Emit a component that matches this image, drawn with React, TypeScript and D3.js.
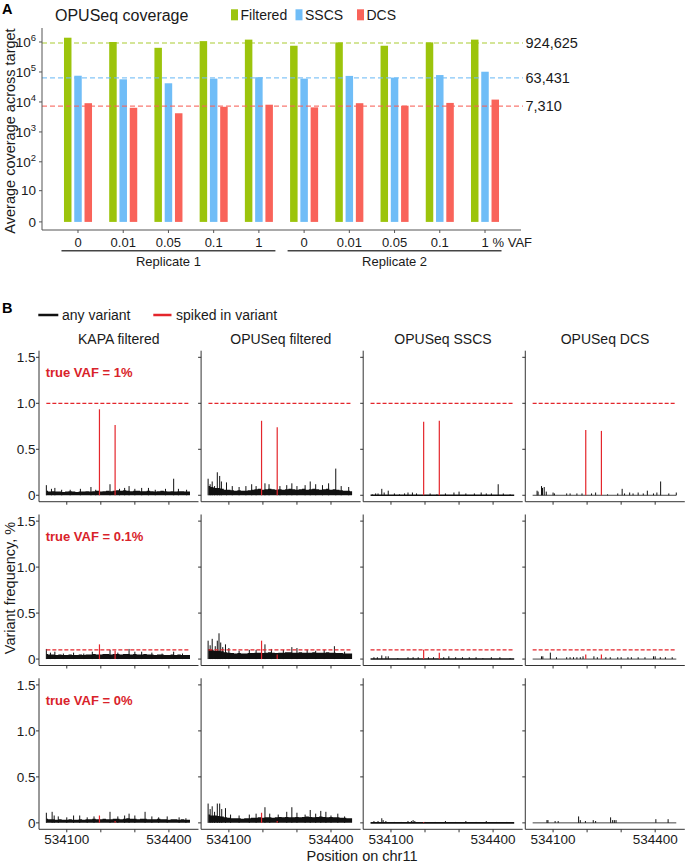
import React from "react";
import * as d3 from "d3";

const FONT = "'Liberation Sans', Arial, Helvetica, sans-serif";

// ---------------- Panel A data ----------------
const vafLevels = ["0", "0.01", "0.05", "0.1", "1"];
const replicates = ["Replicate 1", "Replicate 2"];
const seriesNames = ["Filtered", "SSCS", "DCS"];
const seriesColors = ["#9cc40c", "#70bdf7", "#f9635a"];
const filteredCov = [1390000, 1000000, 640000, 1070000, 1200000, 750000, 970000, 750000, 970000, 1200000];
const sscsCov = [75000, 57000, 42000, 60000, 67000, 60000, 74000, 65000, 79000, 102000];
const dcsCov = [9100, 6400, 4200, 6900, 8100, 6600, 9100, 7500, 9300, 12000];
const meanCov = [924625, 63431, 7310];
const meanLabels = ["924,625", "63,431", "7,310"];
const covTicks = [0, 10, 100, 1000, 10000, 100000, 1000000];
const covTickBase = ["0", "10", "10", "10", "10", "10", "10"];
const covTickExp = ["", "", "2", "3", "4", "5", "6"];

// ---------------- Panel B data ----------------
const columns = ["KAPA filtered", "OPUSeq filtered", "OPUSeq SSCS", "OPUSeq DCS"];
const rowLabels = ["true VAF = 1%", "true VAF = 0.1%", "true VAF = 0%"];
const trueVaf = [1, 0.1, null];
const spikedPositions = [534196, 534242];
const posTicks = [534100, 534200, 534300, 534400];
const posTickLabels = ["534100", "", "", "534400"];
const vafTicks = [0, 0.5, 1.0, 1.5];
const vafTickLabels = ["0", "0.5", "1.0", "1.5"];
const dataStart = 534040;
const dataEnd = 534462;
const bandPositions = [
  534040, 534050, 534060, 534070, 534080, 534090, 534100, 534110, 534120, 534130,
  534140, 534150, 534160, 534170, 534180, 534190, 534200, 534210, 534220, 534230,
  534240, 534250, 534260, 534270, 534280, 534290, 534300, 534310, 534320, 534330,
  534340, 534350, 534360, 534370, 534380, 534390, 534400, 534410, 534420, 534430,
  534440, 534450, 534462,
];

const kapaBand1 = [
  0.05, 0.04, 0.045, 0.04, 0.04, 0.035, 0.04, 0.045, 0.04, 0.035,
  0.04, 0.04, 0.045, 0.04, 0.045, 0.05, 0.04, 0.045, 0.05, 0.045,
  0.05, 0.055, 0.05, 0.055, 0.05, 0.045, 0.05, 0.05, 0.045, 0.045,
  0.05, 0.045, 0.04, 0.045, 0.05, 0.045, 0.04, 0.045, 0.04, 0.045,
  0.045, 0.04, 0.04,
];
const opusBand1 = [
  0.1, 0.09, 0.08, 0.08, 0.07, 0.06, 0.06, 0.055, 0.05, 0.055,
  0.05, 0.05, 0.055, 0.06, 0.065, 0.07, 0.06, 0.065, 0.07, 0.065,
  0.06, 0.065, 0.06, 0.065, 0.07, 0.065, 0.06, 0.065, 0.07, 0.06,
  0.065, 0.07, 0.065, 0.06, 0.065, 0.07, 0.06, 0.065, 0.06, 0.055,
  0.05, 0.05, 0.045,
];
const kapaBand2 = [
  0.055, 0.05, 0.05, 0.045, 0.05, 0.045, 0.045, 0.05, 0.045, 0.045,
  0.05, 0.045, 0.05, 0.05, 0.055, 0.05, 0.05, 0.055, 0.055, 0.05,
  0.055, 0.055, 0.05, 0.055, 0.055, 0.05, 0.055, 0.05, 0.05, 0.055,
  0.05, 0.05, 0.045, 0.05, 0.05, 0.045, 0.045, 0.05, 0.045, 0.05,
  0.045, 0.045, 0.045,
];
const opusBand2 = [
  0.11, 0.1, 0.09, 0.09, 0.085, 0.075, 0.07, 0.065, 0.06, 0.065,
  0.06, 0.06, 0.065, 0.065, 0.07, 0.07, 0.065, 0.07, 0.075, 0.07,
  0.065, 0.07, 0.07, 0.075, 0.075, 0.07, 0.07, 0.075, 0.07, 0.07,
  0.07, 0.075, 0.07, 0.07, 0.07, 0.075, 0.07, 0.07, 0.065, 0.065,
  0.06, 0.06, 0.06,
];
const kapaBand3 = [
  0.045, 0.04, 0.04, 0.035, 0.04, 0.035, 0.035, 0.04, 0.035, 0.035,
  0.04, 0.035, 0.04, 0.04, 0.045, 0.04, 0.04, 0.045, 0.04, 0.04,
  0.045, 0.045, 0.04, 0.045, 0.05, 0.045, 0.045, 0.04, 0.045, 0.045,
  0.04, 0.04, 0.04, 0.045, 0.04, 0.04, 0.035, 0.04, 0.04, 0.035,
  0.04, 0.035, 0.035,
];
const opusBand3 = [
  0.09, 0.08, 0.08, 0.075, 0.07, 0.06, 0.055, 0.05, 0.05, 0.05,
  0.045, 0.05, 0.05, 0.055, 0.055, 0.06, 0.055, 0.06, 0.06, 0.055,
  0.06, 0.065, 0.06, 0.065, 0.06, 0.06, 0.065, 0.06, 0.065, 0.07,
  0.065, 0.06, 0.065, 0.07, 0.065, 0.06, 0.065, 0.06, 0.06, 0.055,
  0.055, 0.05, 0.05,
];

// [position, VAF %] for isolated variants
const kapaSpikes1 = [
  [534040, 0.11], [534055, 0.07], [534065, 0.08], [534085, 0.06], [534110, 0.06], [534140, 0.07],
  [534171, 0.09], [534185, 0.06], [534227, 0.12], [534255, 0.07], [534270, 0.08], [534283, 0.1],
  [534300, 0.07], [534320, 0.08], [534340, 0.08], [534360, 0.06], [534390, 0.07], [534414, 0.18],
  [534428, 0.07], [534452, 0.06],
];
const opusSpikes1 = [
  [534039, 0.18], [534045, 0.12], [534051, 0.15], [534058, 0.1], [534066, 0.25], [534073, 0.21],
  [534078, 0.15], [534093, 0.14], [534110, 0.1], [534130, 0.09], [534150, 0.1], [534167, 0.12],
  [534180, 0.1], [534206, 0.13], [534218, 0.12], [534250, 0.1], [534270, 0.11], [534285, 0.13],
  [534300, 0.1], [534324, 0.11], [534339, 0.15], [534355, 0.12], [534375, 0.11], [534393, 0.13],
  [534414, 0.29], [534430, 0.1], [534452, 0.09],
];
const sscsSpikes1 = [
  [534045, 0.01], [534055, 0.02], [534062, 0.02], [534073, 0.07], [534080, 0.03], [534092, 0.05],
  [534110, 0.02], [534125, 0.01], [534140, 0.02], [534150, 0.03], [534163, 0.03], [534175, 0.02],
  [534215, 0.02], [534235, 0.01], [534260, 0.02], [534285, 0.03], [534300, 0.04], [534320, 0.02],
  [534345, 0.02], [534365, 0.03], [534380, 0.02], [534395, 0.02], [534415, 0.12], [534430, 0.02],
  [534450, 0.01],
];
const dcsSpikes1 = [
  [534053, 0.05], [534056, 0.04], [534066, 0.1], [534069, 0.08], [534074, 0.09], [534080, 0.04],
  [534100, 0.03], [534104, 0.02], [534140, 0.02], [534150, 0.02], [534170, 0.02], [534185, 0.02],
  [534213, 0.02], [534225, 0.03], [534260, 0.01], [534290, 0.02], [534303, 0.07], [534310, 0.02],
  [534325, 0.03], [534335, 0.02], [534350, 0.03], [534365, 0.02], [534377, 0.05], [534395, 0.02],
  [534405, 0.03], [534416, 0.15], [534440, 0.02], [534462, 0.03],
];
const kapaSpikes2 = [
  [534040, 0.11], [534052, 0.07], [534065, 0.08], [534090, 0.06], [534120, 0.07], [534150, 0.06],
  [534175, 0.08], [534227, 0.1], [534250, 0.07], [534283, 0.11], [534300, 0.08], [534320, 0.08],
  [534350, 0.07], [534380, 0.06], [534414, 0.08], [534440, 0.06],
];
const opusSpikes2 = [
  [534039, 0.2], [534045, 0.15], [534051, 0.22], [534060, 0.14], [534066, 0.2], [534071, 0.28],
  [534076, 0.18], [534082, 0.13], [534090, 0.16], [534100, 0.12], [534130, 0.09], [534160, 0.1],
  [534180, 0.1], [534206, 0.16], [534225, 0.11], [534260, 0.1], [534285, 0.13], [534300, 0.12],
  [534330, 0.1], [534355, 0.09], [534380, 0.1], [534410, 0.14], [534440, 0.08],
];
const sscsSpikes2 = [
  [534050, 0.02], [534060, 0.02], [534073, 0.04], [534085, 0.03], [534092, 0.03], [534120, 0.01],
  [534150, 0.02], [534165, 0.02], [534180, 0.02], [534210, 0.02], [534225, 0.02], [534255, 0.02],
  [534270, 0.03], [534290, 0.02], [534310, 0.02], [534330, 0.02], [534350, 0.02], [534370, 0.01],
  [534395, 0.02], [534420, 0.02], [534450, 0.01],
];
const dcsSpikes2 = [
  [534066, 0.03], [534070, 0.03], [534092, 0.07], [534110, 0.02], [534140, 0.02], [534150, 0.02],
  [534160, 0.02], [534170, 0.02], [534180, 0.02], [534188, 0.03], [534220, 0.03], [534230, 0.02],
  [534255, 0.02], [534268, 0.02], [534290, 0.02], [534300, 0.02], [534320, 0.02], [534330, 0.02],
  [534350, 0.02], [534370, 0.02], [534395, 0.03], [534400, 0.03], [534415, 0.02], [534430, 0.02],
  [534450, 0.02],
];
const kapaSpikes3 = [
  [534040, 0.11], [534057, 0.12], [534063, 0.08], [534075, 0.07], [534100, 0.06], [534120, 0.08],
  [534138, 0.08], [534160, 0.06], [534180, 0.07], [534227, 0.12], [534250, 0.07], [534270, 0.08],
  [534283, 0.1], [534300, 0.08], [534330, 0.12], [534350, 0.07], [534370, 0.06], [534395, 0.07],
  [534430, 0.06], [534450, 0.05],
];
const opusSpikes3 = [
  [534039, 0.21], [534045, 0.15], [534051, 0.18], [534058, 0.12], [534066, 0.21], [534073, 0.21],
  [534079, 0.15], [534090, 0.16], [534105, 0.09], [534130, 0.08], [534160, 0.09], [534180, 0.1],
  [534206, 0.17], [534220, 0.1], [534245, 0.09], [534270, 0.12], [534285, 0.17], [534300, 0.11],
  [534324, 0.09], [534339, 0.14], [534355, 0.1], [534370, 0.13], [534385, 0.12], [534400, 0.08],
  [534420, 0.1], [534440, 0.07],
];
const sscsSpikes3 = [
  [534050, 0.02], [534062, 0.02], [534073, 0.05], [534077, 0.03], [534085, 0.02], [534110, 0.01],
  [534130, 0.01], [534150, 0.02], [534160, 0.02], [534165, 0.03], [534170, 0.02], [534200, 0.01],
  [534230, 0.01], [534260, 0.02], [534290, 0.01], [534320, 0.02], [534350, 0.01], [534380, 0.02],
  [534410, 0.01], [534440, 0.01],
];
const dcsSpikes3 = [
  [534082, 0.03], [534085, 0.03], [534106, 0.02], [534115, 0.02], [534175, 0.07], [534180, 0.03],
  [534195, 0.02], [534218, 0.03], [534225, 0.02], [534269, 0.06], [534275, 0.03], [534280, 0.03],
  [534285, 0.03], [534402, 0.04], [534438, 0.04],
];

// spiked-in variant VAFs (two positions) per row x column
const spikedVaf1 = [[0.935, 0.765], [0.81, 0.74], [0.8, 0.81], [0.71, 0.7]];
const spikedVaf2 = [[0.16, 0.09], [0.2, 0.05], [0.1, 0.07], [0.05, 0.05]];
const spikedVaf3 = [[0.08, 0.02], [0.11, 0.02], [0.01, 0.0], [0.0, 0.0]];

const bands = [
  [kapaBand1, opusBand1, null, null],
  [kapaBand2, opusBand2, null, null],
  [kapaBand3, opusBand3, null, null],
];
const spikes = [
  [kapaSpikes1, opusSpikes1, sscsSpikes1, dcsSpikes1],
  [kapaSpikes2, opusSpikes2, sscsSpikes2, dcsSpikes2],
  [kapaSpikes3, opusSpikes3, sscsSpikes3, dcsSpikes3],
];
const spikedVafs = [spikedVaf1, spikedVaf2, spikedVaf3];

const RED = "#e4262c";
const TXT = "#1a1a1a";

export default function App() {
  const W = 686;
  const H = 863;

  // ---- Panel A scales ----
  const aLeft = 42, aRight = 521, aTop = 28, aBottom = 230;
  const sampleIds = replicates.flatMap((r) => vafLevels.map((v) => r + "|" + v));
  const xA = d3.scaleBand<string>().domain(sampleIds).range([aLeft, aRight]).paddingInner(0.38).paddingOuter(0.486);
  const xS = d3.scaleBand<string>().domain(seriesNames).range([0, xA.bandwidth()]).paddingInner(0.27).paddingOuter(0);
  const yA = d3.scaleSymlog().constant(1).domain([-0.862, 2.93e6]).range([aBottom, aTop]);
  const series = [filteredCov, sscsCov, dcsCov];

  // ---- Panel B scales ----
  const fx = d3.scaleBand<string>().domain(columns).range([39, 684.8]).paddingInner(0.016);
  const fy = d3.scaleBand<string>().domain(rowLabels).range([350.7, 829.3]).paddingInner(0.078);
  const x = d3.scaleLinear().domain([534018.4, 534487]).range([0, fx.bandwidth()]);
  const y = d3.scaleLinear().domain([-0.07, 1.572]).range([fy.bandwidth(), 0]);
  const area = d3
    .area<number>()
    .x((_, i) => x(bandPositions[i]))
    .y0(y(0))
    .y1((d) => y(d))
    .curve(d3.curveStep);

  const ph = fy.bandwidth();
  const pw = fx.bandwidth();

  return (
    <svg
      width={W}
      height={H}
      viewBox={`0 0 ${W} ${H}`}
      style={{ position: "absolute", left: 0, top: 0, background: "#fff" }}
      fontFamily={FONT}
    >
      <rect x={0} y={0} width={W} height={H} fill="#fff" />
      {/* ================= Panel A ================= */}
      <text x={2} y={13.5} fontSize={14.5} fontWeight="bold" fill="#000">A</text>
      <text x={55} y={15} dy="0.35em" fontSize={16} fill={TXT}>OPUSeq coverage</text>
      {/* legend */}
      {[231, 295.5, 357].map((lx, i) => (
        <g key={"lg" + i}>
          <rect x={lx} y={9.3} width={7} height={11} fill={seriesColors[i]} />
          <text x={lx + 9.5} y={15} dy="0.35em" fontSize={14} fill={TXT}>{seriesNames[i]}</text>
        </g>
      ))}

      {/* bars */}
      {series.map((vals, si) =>
        vals.map((v, i) => (
          <rect
            key={"b" + si + "-" + i}
            x={(xA(sampleIds[i]) as number) + (xS(seriesNames[si]) as number)}
            y={yA(v)}
            width={xS.bandwidth()}
            height={yA(0) - yA(v)}
            fill={seriesColors[si]}
          />
        ))
      )}
      {/* mean dashed lines */}
      {meanCov.map((m, i) => (
        <g key={"mean" + i}>
          <line
            x1={aLeft}
            x2={aRight + 2}
            y1={yA(m)}
            y2={yA(m)}
            stroke={seriesColors[i]}
            strokeWidth={1.2}
            strokeDasharray="5,3"
            opacity={0.85}
          />
          <text x={525.5} y={yA(m)} dy="0.35em" fontSize={14.5} fill={TXT}>{meanLabels[i]}</text>
        </g>
      ))}
      {/* axes */}
      <line x1={aLeft} x2={aLeft} y1={aTop} y2={aBottom} stroke="#555" strokeWidth={1} />
      <line x1={aLeft} x2={aRight} y1={aBottom} y2={aBottom} stroke="#555" strokeWidth={1} />
      {covTicks.map((t, i) => (
        <g key={"yt" + i}>
          <line x1={aLeft - 3} x2={aLeft} y1={yA(t)} y2={yA(t)} stroke="#555" />
          <text x={aLeft - 6} y={yA(t)} dy="0.35em" textAnchor="end" fontSize={13.5} fill={TXT}>
            <tspan>{covTickBase[i]}</tspan>
            {covTickExp[i] ? (
              <tspan dy={-6} fontSize={9.5}>{covTickExp[i]}</tspan>
            ) : null}
          </text>
        </g>
      ))}
      {sampleIds.map((id, i) => {
        const cx = (xA(id) as number) + xA.bandwidth() / 2;
        return (
          <g key={"xt" + i}>
            <line x1={cx} x2={cx} y1={aBottom} y2={aBottom + 3} stroke="#555" />
            <text x={cx} y={242.5} dy="0.35em" textAnchor="middle" fontSize={13} fill={TXT}>
              {vafLevels[i % vafLevels.length]}
            </text>
          </g>
        );
      })}
      <text x={492.5} y={242.5} dy="0.35em" fontSize={13} fill={TXT}>% VAF</text>
      {replicates.map((r, ri) => {
        const ids = sampleIds.slice(ri * vafLevels.length, (ri + 1) * vafLevels.length);
        const x0 = (xA(ids[0]) as number) - 2.5;
        const x1 = (xA(ids[ids.length - 1]) as number) + xA.bandwidth() + 2.5;
        return (
          <g key={"rep" + ri}>
            <line x1={x0} x2={x1} y1={250.8} y2={250.8} stroke="#444" strokeWidth={1.5} />
            <text x={(x0 + x1) / 2} y={261} dy="0.35em" textAnchor="middle" fontSize={13} fill={TXT}>{r}</text>
          </g>
        );
      })}
      <text
        transform={`translate(9.5, 131) rotate(-90)`}
        textAnchor="middle"
        dy="0.35em"
        fontSize={14.5}
        fill={TXT}
      >
        Average coverage across target
      </text>

      {/* ================= Panel B ================= */}
      <text x={2} y={313} fontSize={14.5} fontWeight="bold" fill="#000">B</text>
      <line x1={38.3} x2={58.3} y1={315} y2={315} stroke="#111" strokeWidth={2.5} />
      <text x={62} y={315} dy="0.35em" fontSize={14} fill={TXT}>any variant</text>
      <line x1={153.3} x2={171.5} y1={315} y2={315} stroke={RED} strokeWidth={2.5} />
      <text x={176} y={315} dy="0.35em" fontSize={14} fill={TXT}>spiked in variant</text>

      {columns.map((c) => (
        <text
          key={"hdr" + c}
          x={(fx(c) as number) + pw / 2}
          y={339.3}
          dy="0.35em"
          textAnchor="middle"
          fontSize={14}
          fill={TXT}
        >
          {c}
        </text>
      ))}

      {rowLabels.map((rl, ri) => (
        <g key={"row" + ri} transform={`translate(0, ${fy(rl)})`}>
          {columns.map((c, ci) => {
            const band = bands[ri][ci];
            const sp = spikes[ri][ci];
            const sv = spikedVafs[ri][ci];
            const tv = trueVaf[ri];
            return (
              <g key={"p" + ci} transform={`translate(${fx(c)}, 0)`}>
                {band ? (
                  <path d={area(band) as string} fill="#111" />
                ) : (
                  <line
                    x1={x(dataStart)}
                    x2={x(dataEnd)}
                    y1={y(0)}
                    y2={y(0)}
                    stroke={ci === 2 ? "#111" : "#444"}
                    strokeWidth={ci === 2 ? 1.6 : 1}
                  />
                )}
                {sp.map((d, k) => (
                  <line
                    key={"s" + k}
                    x1={x(d[0])}
                    x2={x(d[0])}
                    y1={y(0)}
                    y2={y(d[1])}
                    stroke="#111"
                    strokeWidth={1}
                  />
                ))}
                {spikedPositions.map((p, k) =>
                  sv[k] > 0 ? (
                    <line
                      key={"r" + k}
                      x1={x(p)}
                      x2={x(p)}
                      y1={y(0)}
                      y2={y(sv[k])}
                      stroke={RED}
                      strokeWidth={1.2}
                    />
                  ) : null
                )}
                {tv !== null ? (
                  <line
                    x1={x(dataStart)}
                    x2={x(dataEnd)}
                    y1={y(tv)}
                    y2={y(tv)}
                    stroke={RED}
                    strokeWidth={1.3}
                    strokeDasharray="4,2"
                  />
                ) : null}
                {/* axes */}
                <line x1={0} x2={0} y1={0} y2={ph} stroke="#333" strokeWidth={1} />
                <line x1={0} x2={pw} y1={ph} y2={ph} stroke="#333" strokeWidth={1} />
                {vafTicks.map((t, k) => (
                  <line key={"yt" + k} x1={-3} x2={0} y1={y(t)} y2={y(t)} stroke="#333" />
                ))}
                {posTicks.map((t, k) => (
                  <line key={"xt" + k} x1={x(t)} x2={x(t)} y1={ph} y2={ph + 3} stroke="#333" />
                ))}
                {ci === 0 &&
                  vafTicks.map((t, k) => (
                    <text
                      key={"ytl" + k}
                      x={-3.5}
                      y={y(t)}
                      dy="0.35em"
                      textAnchor="end"
                      fontSize={13.5}
                      fill={TXT}
                    >
                      {vafTickLabels[k]}
                    </text>
                  ))}
                {ri === rowLabels.length - 1 &&
                  posTicks.map((t, k) =>
                    posTickLabels[k] ? (
                      <text
                        key={"xtl" + k}
                        x={x(t)}
                        y={ph + 9.5}
                        dy="0.35em"
                        textAnchor="middle"
                        fontSize={13.5}
                        fill={TXT}
                      >
                        {posTickLabels[k]}
                      </text>
                    ) : null
                  )}
                {ci === 0 ? (
                  <text x={6.7} y={22} dy="0.35em" fontSize={13} fontWeight="bold" fill="#d9232a">
                    {rl}
                  </text>
                ) : null}
              </g>
            );
          })}
        </g>
      ))}
      <text
        transform={`translate(9.5, 588) rotate(-90)`}
        textAnchor="middle"
        dy="0.35em"
        fontSize={14.5}
        fill={TXT}
      >
        Variant frequency, %
      </text>
      <text x={362} y={856} dy="0.35em" textAnchor="middle" fontSize={14.5} fill={TXT}>
        Position on chr11
      </text>
    </svg>
  );
}
